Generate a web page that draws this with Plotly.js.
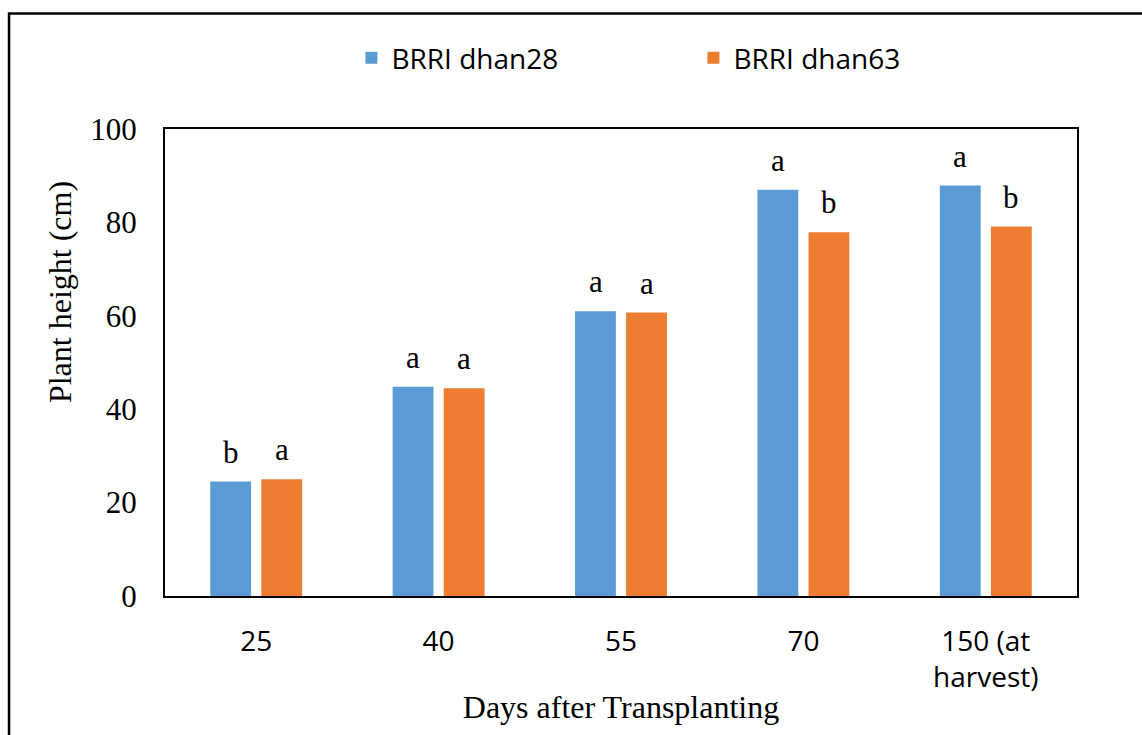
<!DOCTYPE html>
<html>
<head>
<meta charset="utf-8">
<script src="https://cdn.plot.ly/plotly-3.0.1.min.js"></script>
<style>
  html, body { margin: 0; padding: 0; background: #fff; }
  #chart { width: 1142px; height: 735px; }
</style>
</head>
<body>
<div id="chart"></div>
<script>
// days after transplanting
const categories = ['25', '40', '55', '70', '150 (at<br>harvest)'];

// plant height (cm)
const dhan28 = [24.5, 44.8, 61.0, 87.0, 87.9];
const dhan63 = [25.0, 44.5, 60.7, 77.9, 79.1];

// significance letters
const letters28 = ['b', 'a', 'a', 'a', 'a'];
const letters63 = ['a', 'a', 'a', 'b', 'b'];

const serif = 'Liberation Serif, Times New Roman, serif';
const sans = 'Open Sans, Noto Sans, sans-serif';

const data = [
  {
    type: 'bar',
    name: 'BRRI dhan28',
    x: categories,
    y: dhan28,
    marker: { color: '#5B9BD5' },
    hoverinfo: 'y'
  },
  {
    type: 'bar',
    name: 'BRRI dhan63',
    x: categories,
    y: dhan63,
    marker: { color: '#ED7D31' },
    hoverinfo: 'y'
  }
];

// letters above each bar (x given as category index, numeric-looking
// category names would otherwise be read as indices)
function letterNotes (values, letters, shift) {
  return values.map((v, i) => ({
    x: i,
    y: v,
    text: letters[i],
    showarrow: false,
    xshift: shift,
    yshift: 10,
    yanchor: 'bottom',
    font: { family: serif, size: 31, color: '#000' }
  }));
}

// y title sits above the middle of the axis in the original, so it is an annotation
const yTitle = {
  xref: 'paper',
  yref: 'paper',
  x: -0.115,
  y: 0.651,
  xanchor: 'center',
  yanchor: 'middle',
  textangle: -90,
  showarrow: false,
  text: 'Plant height (cm)',
  font: { family: serif, size: 32, color: '#000' }
};

const layout = {
  width: 1142,
  height: 735,
  margin: { l: 165, r: 65, t: 129, b: 139 },
  paper_bgcolor: '#fff',
  plot_bgcolor: '#fff',
  barmode: 'group',
  bargap: 0.44,
  bargroupgap: 0.2,
  showlegend: true,
  legend: {
    orientation: 'h',
    x: 0.2044,
    xanchor: 'left',
    y: 1.152,
    yanchor: 'middle',
    entrywidth: 297,
    font: { family: sans, size: 28, color: '#000' }
  },
  xaxis: {
    type: 'category',
    range: [-0.5, 4.5],
    showline: true,
    mirror: true,
    linecolor: '#000',
    linewidth: 2,
    showgrid: false,
    ticks: '',
    ticklabelstandoff: 19,
    tickfont: { family: sans, size: 28, color: '#000' },
    title: {
      text: 'Days after Transplanting',
      standoff: 2,
      font: { family: serif, size: 32, color: '#000' }
    }
  },
  yaxis: {
    range: [0, 100],
    tickvals: [0, 20, 40, 60, 80, 100],
    showline: true,
    mirror: true,
    linecolor: '#000',
    linewidth: 2,
    showgrid: false,
    zeroline: false,
    ticks: '',
    ticklabelstandoff: 20,
    tickfont: { family: serif, size: 31, color: '#000' }
  },
  annotations: letterNotes(dhan28, letters28, -25.5)
    .concat(letterNotes(dhan63, letters63, 25.5))
    .concat([yTitle]),
  shapes: [
    {
      type: 'rect',
      xref: 'paper',
      yref: 'paper',
      x0: -0.171,
      x1: 1.3,
      y0: -0.5,
      y1: 1.2473,
      line: { color: '#000', width: 2.5 }
    }
  ]
};

const config = {
  displayModeBar: false,
  staticPlot: true
};

Plotly.newPlot('chart', data, layout, config);
</script>
</body>
</html>
